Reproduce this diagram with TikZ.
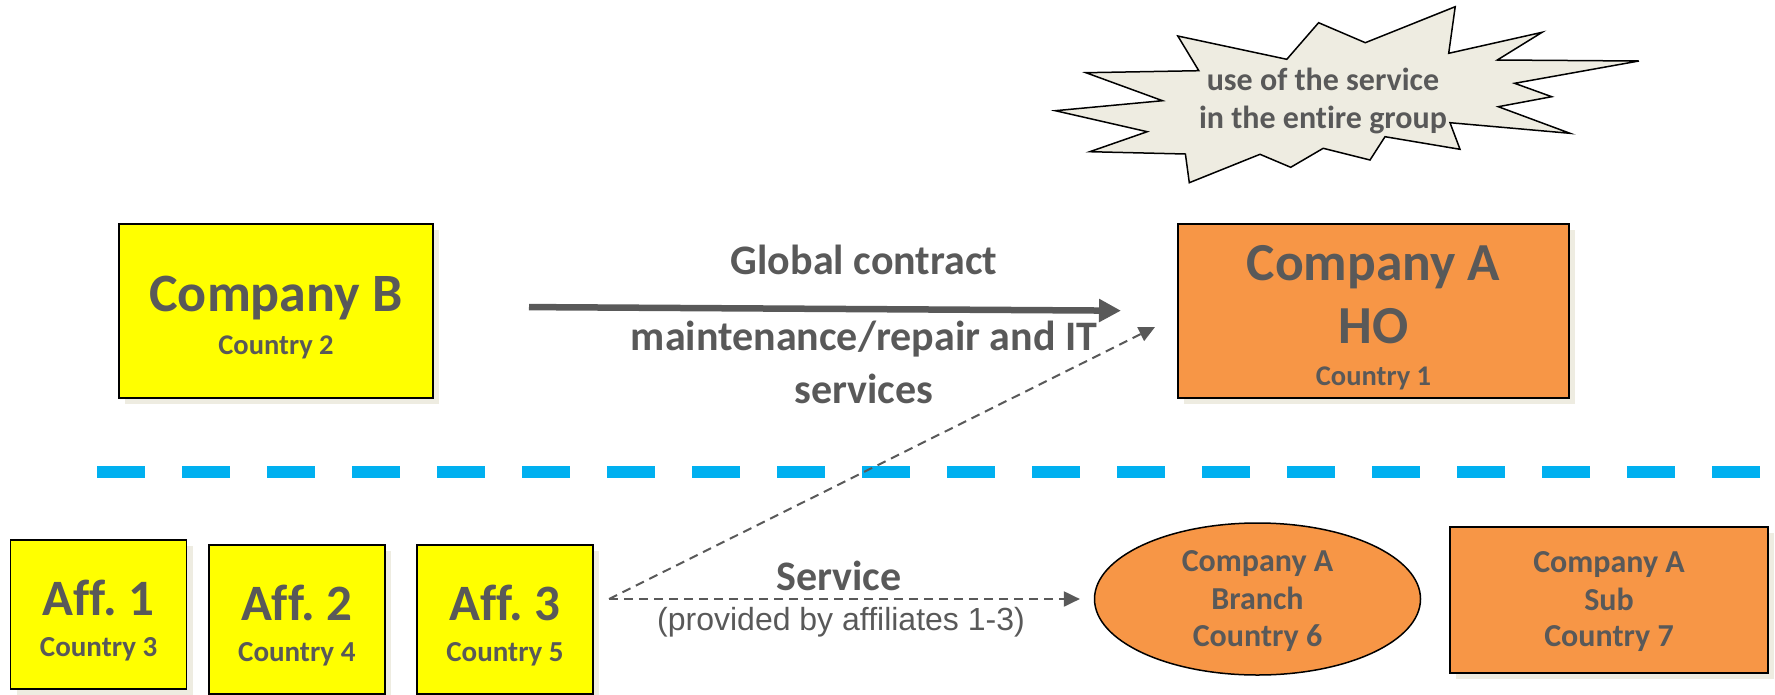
\documentclass[tikz,border=0pt]{standalone}
\usepackage{fontspec}
\setmainfont[Ligatures=NoCommon]{Carlito}
\newfontfamily\arialfont{Liberation Sans}
\usetikzlibrary{arrows.meta,shapes.geometric,shadows}
\definecolor{txtgray}{HTML}{595959}
\definecolor{boxyellow}{HTML}{FFFF00}
\definecolor{boxorange}{HTML}{F79646}
\definecolor{shade}{HTML}{EEECE1}
\definecolor{sepblue}{HTML}{00B0F0}
\frenchspacing
\begin{document}
\begin{tikzpicture}[x=1pt,y=-1pt,
  every node/.style={inner sep=0pt,outer sep=0pt},
  boxbase/.style={draw=black,line width=1.5pt},
  shadowed/.style={drop shadow={shadow xshift=6pt,shadow yshift=-6pt,fill=shade,opacity=1}},
  ybox/.style={boxbase,shadowed,fill=boxyellow,rectangle},
  obox/.style={boxbase,shadowed,fill=boxorange,rectangle},
  oell/.style={boxbase,fill=boxorange,ellipse},
  lbl/.style={text=txtgray,anchor=base,font=\bfseries\fontsize{#1}{#1}\selectfont},
  lbl/.default=32,
  note/.style={text=txtgray,anchor=base,font=\arialfont\fontsize{32}{32}\selectfont},
  contract/.style={draw=txtgray,line width=6.5pt,-{Triangle[length=22pt,width=22pt]}},
  service/.style={draw=txtgray,line width=2pt,dash pattern=on 9pt off 6pt,-{Triangle[length=16pt,width=15pt]}},
  separator/.style={draw=sepblue,line width=12pt,dash pattern=on 48pt off 37pt}]
\useasboundingbox (0,0) rectangle (1775,694);
\clip (0,0) rectangle (1775,694);

% separator between group levels
\coordinate (sepL) at (97,471.7);
\coordinate (sepR) at (1775,471.7);
\draw[separator] (sepL) -- (sepR);

% starburst
\filldraw[fill=shade,draw=black,line width=1.5pt,line join=miter]
  (1177.8,36) -- (1286.8,59.3) -- (1318.6,22.7) -- (1365.3,42.7) -- (1455.2,6.7)
  -- (1448.7,53.3) -- (1542.1,32.3) -- (1497.3,60) -- (1638.9,61) -- (1514.6,83.3)
  -- (1551.7,96.7) -- (1498.3,106.7) -- (1570,133.3) -- (1450,122.7) -- (1460,149.3)
  -- (1385,136.7) -- (1370,160) -- (1323.2,148.3) -- (1290.7,167.3) -- (1260,154.3)
  -- (1189.3,182.7) -- (1185.4,154) -- (1089.8,151.7) -- (1147.2,131.7) -- (1055.3,110.7)
  -- (1162.5,100.7) -- (1085.9,72.7) -- (1198.8,70.7) -- cycle;
\node[lbl=32] (burst1) at (1323,90) {use of the service};
\node[lbl=32] (burst2) at (1323,128) {in the entire group};

% top level companies
\node[ybox,minimum width=314pt,minimum height=174pt] (B) at (276,311) {};
\node[lbl=54] (Bname) at (276,311.7) {Company B};
\node[lbl=28.5] (Bcountry) at (276,354) {Country 2};

\node[obox,minimum width=391pt,minimum height=174pt] (HO) at (1373.5,311) {};
\node[lbl=53.5] (HOname) at (1373.5,280.7) {Company A};
\node[lbl=53.5] (HOtag) at (1373.5,343.3) {HO};
\node[lbl=28.5] (HOcountry) at (1373.5,385) {Country 1};

% global contract
\draw[contract,shorten <=96pt,shorten >=57pt] ([yshift=4.5pt]B.east) -- (HO.west);
\node[lbl=42] (gc1) at (864,274) {Global contract};
\node[lbl=42] (gc2) at (864,350) {maintenance/repair and IT};
\node[lbl=42] (gc3) at (864,403) {services};

% affiliates
\node[ybox,minimum width=176pt,minimum height=149pt] (aff1) at (98.6,614.5) {};
\node[lbl=51] (aff1name) at (98.6,615) {Aff. 1};
\node[lbl=29] (aff1country) at (98.6,656.7) {Country 3};

\node[ybox,minimum width=176pt,minimum height=149pt] (aff2) at (296.8,619.5) {};
\node[lbl=51] (aff2name) at (296.8,620.7) {Aff. 2};
\node[lbl=29] (aff2country) at (296.8,661.7) {Country 4};

\node[ybox,minimum width=176pt,minimum height=149pt] (aff3) at (505,619.5) {};
\node[lbl=51] (aff3name) at (505,620.7) {Aff. 3};
\node[lbl=29] (aff3country) at (505,661.7) {Country 5};

% local entities of company A
\node[oell,minimum width=326pt,minimum height=152pt] (branch) at (1257.5,599) {};
\node[lbl=32] (br1) at (1257.5,571.7) {Company A};
\node[lbl=32] (br2) at (1257.5,609.3) {Branch};
\node[lbl=32] (br3) at (1257.5,646.7) {Country 6};

\node[obox,minimum width=318pt,minimum height=146pt] (sub) at (1609,600) {};
\node[lbl=32] (sub1) at (1609,572.7) {Company A};
\node[lbl=32] (sub2) at (1609,610) {Sub};
\node[lbl=32] (sub3) at (1609,646.7) {Country 7};

% services provided by the affiliates
\coordinate (hub) at (609,599);
\coordinate (hoin) at (1155,327);
\draw[service] (hub) -- (hoin);
\draw[service,shorten >=14.6pt] (hub) -- (branch.west);
\node[lbl=42] (svc) at (839,590) {Service};
\node[note] (svcnote) at (841,630) {(provided by affiliates 1-3)};
\end{tikzpicture}
\end{document}
